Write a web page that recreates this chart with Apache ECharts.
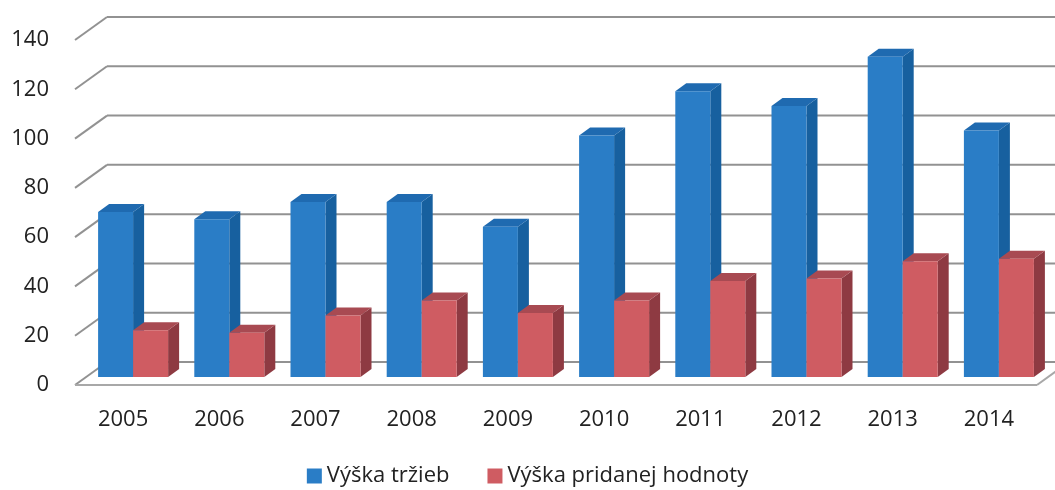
<!DOCTYPE html>
<html>
<head>
<meta charset="utf-8">
<script src="https://cdn.jsdelivr.net/npm/echarts@6/dist/echarts.min.js"></script>
<style>
  html, body { margin: 0; padding: 0; background: #fff; }
  #chart { width: 1055px; height: 490px; }
</style>
</head>
<body>
<div id="chart"></div>
<script>
// data
var years = ['2005', '2006', '2007', '2008', '2009', '2010', '2011', '2012', '2013', '2014'];
var trzby = [67, 64, 71, 71, 61, 98, 116, 110, 130, 100];
var pridana = [19, 18, 25, 31, 26, 31, 39, 40, 47, 48];
var yTicks = [0, 20, 40, 60, 80, 100, 120, 140];

// 3d look (pixels)
var WALL_DX = 32, WALL_DY = -23;   // depth of the whole floor
var BAR_OX = 10, BAR_OY = -8;      // bar front plane offset from front edge
var SIDE_DX = 11, SIDE_DY = -8;    // bar depth
var BAR_W = 35;

var dom = document.getElementById('chart');
var myChart = echarts.init(dom);

function box(x0, x1, yTop, yBot, front, side, top) {
  return [
    { type: 'polygon', shape: { points: [[x1, yBot], [x1 + SIDE_DX, yBot + SIDE_DY], [x1 + SIDE_DX, yTop + SIDE_DY], [x1, yTop]] }, style: { fill: side } },
    { type: 'polygon', shape: { points: [[x0, yTop], [x0 + SIDE_DX, yTop + SIDE_DY], [x1 + SIDE_DX, yTop + SIDE_DY], [x1, yTop]] }, style: { fill: top } },
    { type: 'rect', shape: { x: x0, y: yTop, width: x1 - x0, height: yBot - yTop }, style: { fill: front } }
  ];
}

function barRenderer(which, front, side, top) {
  return function (params, api) {
    var idx = api.value(0);
    var base = api.coord([idx, 0]);
    var tip = api.coord([idx, api.value(1)]);
    var cx = base[0] + BAR_OX;
    var yBot = base[1] + BAR_OY;
    var yTop = tip[1] + BAR_OY;
    var x0 = which === 0 ? cx - BAR_W : cx;
    var x1 = which === 0 ? cx : cx + BAR_W;
    return { type: 'group', children: box(x0, x1, yTop, yBot, front, side, top) };
  };
}

function wallRenderer(params, api) {
  var cs = params.coordSys;
  var p = api.coord([0, api.value(0)]);
  var y = p[1];
  var left = cs.x, right = cs.x + cs.width;
  var st = { stroke: '#929292', lineWidth: 2 };
  var kids = [
    { type: 'line', shape: { x1: left, y1: y, x2: left + WALL_DX, y2: y + WALL_DY }, style: st },
    { type: 'line', shape: { x1: left + WALL_DX, y1: y + WALL_DY, x2: right + WALL_DX + 20, y2: y + WALL_DY }, style: st }
  ];
  if (api.value(0) === 0) {
    kids.push({ type: 'line', shape: { x1: left, y1: y, x2: right, y2: y }, style: { stroke: '#a8a8a8', lineWidth: 2 } });
    kids.push({ type: 'line', shape: { x1: right, y1: y, x2: right + WALL_DX, y2: y + WALL_DY }, style: { stroke: '#a8a8a8', lineWidth: 2 } });
  }
  return { type: 'group', children: kids };
}

var option = {
  animation: false,
  backgroundColor: '#ffffff',
  textStyle: { fontFamily: 'Open Sans' },
  grid: { left: 75, right: 18, top: 40, bottom: 105 },
  legend: {
    left: 'center',
    top: 460,
    icon: 'rect',
    itemWidth: 15,
    itemHeight: 15,
    itemGap: 38,
    textStyle: { fontFamily: 'Open Sans', fontSize: 22, color: '#222' },
    data: ['Výška tržieb', 'Výška pridanej hodnoty']
  },
  xAxis: {
    type: 'category',
    data: years,
    axisLine: { show: false },
    axisTick: { show: false },
    axisLabel: { margin: 24, fontSize: 22, color: '#222', fontFamily: 'Open Sans' }
  },
  yAxis: {
    type: 'value',
    min: 0,
    max: 140,
    interval: 20,
    splitLine: { show: false },
    axisLine: { show: false },
    axisTick: { show: false },
    axisLabel: { margin: 26, fontSize: 22, color: '#222', fontFamily: 'Open Sans' }
  },
  series: [
    {
      name: 'wall',
      type: 'custom',
      renderItem: wallRenderer,
      data: yTicks.map(function (v) { return [v]; }),
      encode: { y: 0 },
      silent: true,
      z: 1
    },
    {
      name: 'Výška tržieb',
      type: 'custom',
      itemStyle: { color: '#2a7dc6' },
      renderItem: barRenderer(0, '#2a7dc6', '#17609f', '#1f6ab0'),
      data: trzby.map(function (v, i) { return [i, v]; }),
      encode: { x: 0, y: 1 },
      z: 2
    },
    {
      name: 'Výška pridanej hodnoty',
      type: 'custom',
      itemStyle: { color: '#cf5c62' },
      renderItem: barRenderer(1, '#cf5c62', '#8e3a42', '#a84a52'),
      data: pridana.map(function (v, i) { return [i, v]; }),
      encode: { x: 0, y: 1 },
      z: 3
    }
  ]
};

if (option && typeof option === "object") {
  myChart.setOption(option, true);
}
</script>
</body>
</html>
